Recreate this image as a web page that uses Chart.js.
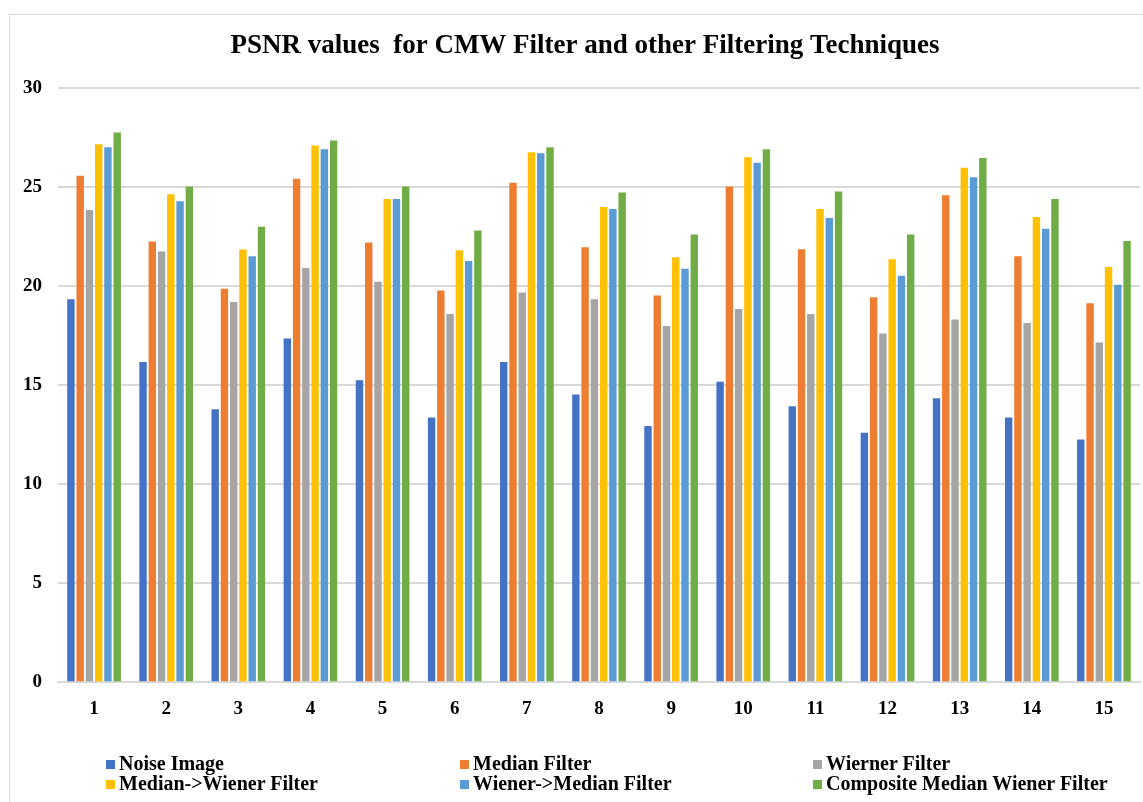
<!DOCTYPE html>
<html>
<head>
<meta charset="utf-8">
<script src="https://cdn.jsdelivr.net/npm/chart.js@4/dist/chart.umd.min.js"></script>
<style>
  html, body { margin: 0; padding: 0; background: #fff; overflow: hidden; }
  #wrap { position: relative; width: 1143px; height: 802px; }
  #frame { position: absolute; left: 9px; top: 14px; width: 1300px; height: 1000px; border: 1px solid #d9d9d9; box-sizing: border-box; }
  #psnrChart { position: absolute; left: 0; top: 0; }
  #legend { position: absolute; left: 0; top: 753px; width: 1143px; font: bold 20px "Liberation Serif", "Times New Roman", serif; color: #000; }
  .item { position: absolute; white-space: nowrap; line-height: 20px; height: 20px; }
  .item i { display: inline-block; width: 9px; height: 9px; margin-right: 4px; vertical-align: 1px; }
</style>
</head>
<body>
<div id="wrap">
  <div id="frame"></div>
  <canvas id="psnrChart" width="1143" height="802"></canvas>
  <div id="legend"></div>
</div>
<script>
// PSNR comparison
const chartTitle = 'PSNR values  for CMW Filter and other Filtering Techniques';
const images = ['1', '2', '3', '4', '5', '6', '7', '8', '9', '10', '11', '12', '13', '14', '15'];
const yTicks = [0, 5, 10, 15, 20, 25, 30];

const noiseImage    = [19.33, 16.16, 13.78, 17.35, 15.25, 13.37, 16.16, 14.53, 12.94, 15.17, 13.93, 12.60, 14.33, 13.37, 12.25];
const medianFilter  = [25.57, 22.25, 19.87, 25.42, 22.20, 19.77, 25.22, 21.96, 19.53, 25.03, 21.86, 19.43, 24.58, 21.51, 19.13];
const wienerFilter  = [23.84, 21.74, 19.19, 20.91, 20.22, 18.59, 19.68, 19.33, 17.99, 18.84, 18.59, 17.60, 18.31, 18.14, 17.15];
const medianWiener  = [27.16, 24.63, 21.85, 27.10, 24.40, 21.81, 26.76, 23.99, 21.46, 26.51, 23.89, 21.36, 25.97, 23.49, 20.96];
const wienerMedian  = [27.01, 24.28, 21.51, 26.91, 24.40, 21.26, 26.71, 23.89, 20.87, 26.22, 23.44, 20.52, 25.49, 22.90, 20.07];
const compositeCMW  = [27.75, 25.03, 23.00, 27.35, 25.03, 22.80, 27.01, 24.73, 22.60, 26.91, 24.78, 22.60, 26.46, 24.40, 22.27];

const seriesNames  = ['Noise Image', 'Median Filter', 'Wierner Filter', 'Median->Wiener Filter', 'Wiener->Median Filter', 'Composite Median Wiener Filter'];
const seriesData   = [noiseImage, medianFilter, wienerFilter, medianWiener, wienerMedian, compositeCMW];
const seriesColors = ['#4472C4', '#ED7D31', '#A5A5A5', '#FFC000', '#5B9BD5', '#70AD47'];

const serif = '"Liberation Serif", "Times New Roman", serif';

// The original title sits a bit right of the canvas centre, so draw it ourselves
const offsetTitle = {
    id: 'offsetTitle',
    afterDraw(chart) {
        const c = chart.ctx;
        c.save();
        c.font = 'bold 27px ' + serif;
        c.fillStyle = '#000';
        c.textAlign = 'center';
        c.textBaseline = 'middle';
        c.fillText(chartTitle, 585, 46);
        c.restore();
    }
};

document.addEventListener('DOMContentLoaded', function () {
    const ctx = document.getElementById('psnrChart').getContext('2d');

    new Chart(ctx, {
        type: 'bar',
        data: {
            labels: images,
            datasets: seriesNames.map((name, i) => ({
                label: name,
                data: seriesData[i],
                backgroundColor: seriesColors[i],
                borderWidth: 0,
                categoryPercentage: 0.77,
                barPercentage: 0.8
            }))
        },
        plugins: [offsetTitle],
        options: {
            responsive: false,
            animation: false,
            layout: { padding: { left: 0, right: 3, top: 88, bottom: 67 } },
            plugins: {
                legend: { display: false },
                tooltip: { enabled: false },
                title: { display: false }
            },
            scales: {
                x: {
                    grid: { display: false, drawTicks: false },
                    border: { display: true, color: '#d9d9d9', width: 2 },
                    ticks: { color: '#000', padding: 15, font: { family: serif, size: 19, weight: 'bold' } }
                },
                y: {
                    min: 0,
                    max: 30,
                    afterBuildTicks: (axis) => { axis.ticks = yTicks.map(v => ({ value: v })); },
                    afterFit: (axis) => { axis.width = 58; },
                    grid: { color: '#d9d9d9', lineWidth: 2, drawTicks: false },
                    border: { display: false },
                    ticks: { color: '#000', padding: 16, font: { family: serif, size: 19, weight: 'bold' } }
                }
            }
        }
    });

    // legend drawn as html, 3 columns x 2 rows like the original
    const legendBox = document.getElementById('legend');
    const colX = [106, 460, 813];
    seriesNames.forEach((name, i) => {
        const el = document.createElement('div');
        el.className = 'item';
        el.style.left = colX[i % 3] + 'px';
        el.style.top = (Math.floor(i / 3) * 20) + 'px';
        el.innerHTML = '<i style="background:' + seriesColors[i] + '"></i>';
        el.appendChild(document.createTextNode(name));
        legendBox.appendChild(el);
    });
});
</script>
</body>
</html>
